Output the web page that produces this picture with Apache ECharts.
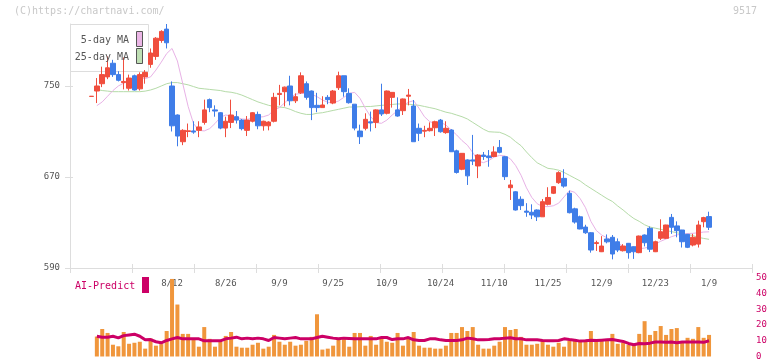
<!DOCTYPE html>
<html><head><meta charset="utf-8">
<script src="https://cdn.jsdelivr.net/npm/echarts@6/dist/echarts.min.js"></script>
<style>html,body{margin:0;padding:0;background:#fff}#c{width:772px;height:361px}</style>
</head><body><div id="c"></div>
<script>
const dates = ['7/18','7/22','7/23','7/24','7/25','7/28','7/29','7/30','7/31','8/1','8/4','8/5','8/6','8/7','8/8',
'8/12','8/13','8/14','8/15','8/18','8/19','8/20','8/21','8/22','8/25','8/26','8/27','8/28','8/29',
'9/1','9/2','9/3','9/4','9/5','9/8','9/9','9/10','9/11','9/12','9/16','9/17','9/18','9/19','9/22','9/24','9/25','9/26','9/29','9/30',
'10/1','10/2','10/3','10/6','10/7','10/8','10/9','10/10','10/14','10/15','10/16','10/17','10/20','10/21','10/22','10/23','10/24','10/27','10/28','10/29','10/30','10/31',
'11/4','11/5','11/6','11/7','11/10','11/11','11/12','11/13','11/14','11/17','11/18','11/19','11/20','11/21','11/25','11/26','11/27','11/28',
'12/1','12/2','12/3','12/4','12/5','12/8','12/9','12/10','12/11','12/12','12/15','12/16','12/17','12/18','12/19','12/22','12/23','12/24','12/25','12/26','12/29','12/30',
'1/5','1/6','1/7','1/8','1/9'];
const labelDates = ['8/12','8/26','9/9','9/25','10/9','10/24','11/10','11/25','12/9','12/23','1/9'];
// [open, close, low, high]
const ohlc = [
[740.8,741,740.8,741],[745.6,750,735,757],[752,760,749,767],[758,766,756,776],[770,760,758,773],
[760,755,754,763],[753,754,747,775],[748,757,746,760],[759,746.5,746,760],[747.5,760,746,762],
[758,762,752,764],[769,779,766,783],[776,792,773,793],[790,798,788,799],[800,788,783,804.5],
[750,715,710,754],[724.5,706,697,725],[701,711,698,712],[710,710.6,705,717],[710.5,709.5,708,719],
[711,714,705,719],[718,729,716,738],[738,731,727,739],[729,728,723,733],[726.5,713,712,727],
[713,719,705,723],[718,724.5,713,738],[723,720,717,728],[720,712.5,711,721],[711,720,706,723.6],
[719,726.5,718,727],[725,715,712,727.5],[715,719,710.7,719.5],[715,718.3,711,719],[719,740,718,744],
[742.5,743.5,733,751],[745,749,732,749.5],[750,737,733,759],[737,740.6,735,743.5],[744,759,743,762],
[752,740,738,754],[745.6,731,720,746],[733,731,727,744],[731,733.3,731,741],[740,738,734,742],
[735,745.6,734,746.5],[748.5,759,746.5,762.6],[759,745,740.6,759],[743.5,735.3,734.5,748],[734,713,711,734],
[710.4,705.4,699,716],[712.8,720.7,711,726],[718.5,717.5,710,727.5],[718,729,713,729.5],[729,725.4,723.6,752],
[726,745.6,725,746],[740,744.4,731,744.5],[729,723.6,723,740],[728.3,738.6,724.5,739],[741,742,733,747.4],
[732.4,701,701,737.7],[712.8,708.4,701.6,717],[710.3,711,705,715],[710.7,712.8,710,718],[713.3,718.6,706,719.5],
[720,709.8,709,721],[709,712.8,708,719],[711.3,692.2,692,712],[693,674,673,694],[676.8,690.8,676,691],
[685,671,663,685.5],[685,684,680.5,707],[679.7,689.3,669,690],[689.3,688,685,692],[688.5,687,679,693.7],
[688,692,687.5,697],[696,691.7,690.8,702.5],[687.8,670.3,667.4,688.5],[660.6,663,649.8,667.4],[657,641,640.5,657.5],
[650.4,644.8,641,653],[640,639,635,647],[639,636.6,633,646],[641,635,631.3,641.5],[635,648.3,635,650.6],
[646,652,645,661],[655.7,661.5,655,662],[665,673.8,664,675],[668.8,662,660.6,676.8],[655.7,638.6,638,658],
[642,630.4,629,643],[635,624.3,624,636],[626,621,620,628],[621,605.8,603.5,621.5],[611.5,612.3,605,614],
[604.3,609.3,604,618],[615.5,613,611.7,619.5],[617,602.3,597.6,619],[613.1,605.8,604,616],[605.2,609.3,604.5,611],
[611.7,603.5,598.2,612],[608.7,604.3,598,609],[603.5,618.1,603,618.5],[619,612.2,609,619.5],[624.9,606.5,604,626.5],
[604.3,613.1,604,614],[616.1,621.9,614.6,632.8],[616.1,627.8,615.5,628],[634.5,625.8,620,637.5],[627,622.8,617,631],
[623.4,613.1,608,623.5],[619.6,608.2,607.5,620],[610.2,617,609,620],[611,627.8,608,631.6],[630.7,634.3,625.8,635],
[635.2,625.8,623.4,639.5]];
const ma5 = [null,732.7,736,741,746,750,752.5,754.5,756.5,757,756.5,758,764,771,778.5,783,772,752,732,717,
711,710.5,712.5,717,722.5,724.5,723.6,722.5,721,720.7,721.6,722.5,723,724.5,728.9,731,735.3,740,742.7,743.5,
743.5,742.7,740.6,737.7,735.7,735.3,736.8,740,743.5,744.4,739.2,730.4,723,717.7,717.2,720,724.5,728.3,732.7,735.7,
737.1,730.4,723,718.6,717.2,718.1,715.7,711.3,707,702,698,691.5,684,682.6,684.5,687.5,689,688.5,686,680,
671.5,660.5,652,646.5,644,644,644.7,647,652.5,658,656.5,651,643,631,623,619,616.5,614,612,609,
607.5,606.5,607,607.5,608.7,611,613.5,615.5,617.5,619,620,620.3,620.5,621,621.6,621.8];
const ma25 = [null,747,746,745.5,745,745,745,745,745,745,745.5,746.5,748,750,752,753,753,752,751,749.5,
748,747.5,747,746.5,746,745,744.5,743.5,742,740,738,736,734.5,733,732,731.5,731,729.5,727.5,726,
725,725,726,726.5,727.5,728.5,729.5,730.5,731.5,731.5,731.8,732,732,732.5,733,733.3,733.8,734.2,734.2,734,
733.5,733,732,731,730,728.5,727,726,724.5,723,721,718,715,712,709.8,709.5,709.3,707.5,705,701,
697.5,692,687,682.5,680,677.6,677,676,674,671.5,669,666.5,663,660,657,654,651,648.5,644.5,641,
637,633.5,631,628,626,625,624,623,622,621,620,619.5,618.5,617,616,615.2];
const volume = [null,12.7,17.5,15,7.5,6.5,15.6,8.1,8.75,9.4,5,11.5,6.9,7.9,16.25,49.4,33.1,14.4,14.4,10.8,
6.25,18.75,11.25,6.25,9.4,13.1,15.6,6.25,5.6,5.6,7.5,8.75,5,6.25,13.75,9.4,7.5,9.4,6.9,7.5,
10,12.5,26.9,4.4,5,6.9,11.25,11.25,6.25,15,15,6.9,13.1,7.5,11.25,9.4,8.75,15,6.9,11.25,
15.6,6.9,5.6,5.6,5,5,6.9,15,15,18.75,16.25,18.75,7.5,5,5,6.9,9.4,18.75,16.9,17.5,
12.5,7.5,7.5,8.1,10,7.5,6.25,8.75,6.25,10,10,10,10.6,16.25,10,10,10.6,14.4,8.1,8.75,
7.5,7.5,14.4,22.5,13.75,16.25,19.4,13.75,17.5,18.1,9.4,11.9,11.25,18.75,11.9,13.75];
const aiPredict = [null,12.9,12.3,12.3,12.9,11.9,13.3,13.75,14.2,12.9,10.6,10.8,9.4,8.75,10.2,11.25,12.1,11.25,11.25,11.25,
11.25,10,10,10,10,11.25,11.7,12.3,11.25,11.7,11.25,11.7,11.25,10.2,12.1,11.7,11.25,11.7,12.1,11.25,
11.25,11.25,12.1,12.9,12.3,11.7,11.25,11.7,11.5,11.25,11.25,11.25,11.25,11.25,12.1,12.1,10.8,11.25,11.25,12.1,
10.6,10.2,10.2,11.25,11.25,10.6,10.2,10.2,10.2,10.6,11.7,11.25,10.6,10.6,10.8,11.25,11.25,11.7,11.9,11.25,
11.25,10.6,10.6,10.6,10.2,10,10,10.2,11.25,10.8,10.4,9.8,10,10.4,10.2,10.4,10.6,10.8,10.2,9.6,
8.3,7.5,8.3,8.1,8.5,9.2,9.2,9,9.2,8.75,9.2,9.2,9.2,9.2,9,10];
const priceTicks = [590, 670, 750];
const volTicks = [0, 10, 20, 30, 40, 50];

const LEAD = 4, TRAIL = 8;
const cats = [];
for (let i = 0; i < LEAD; i++) cats.push('p' + i);
dates.forEach(d => cats.push(d));
for (let i = 0; i < TRAIL; i++) cats.push('f' + i);
const pts = arr => arr.map((v, i) => v == null ? null : [LEAD + i, v]).filter(p => p);
const candleData = ohlc.map((d, i) => [LEAD + i, d[0], d[1], d[2], d[3]]);
const RED = '#f04e3e', BLUE = '#3f7de8', MAGENTA = '#cc0066';
const FONT = 'DejaVu Sans Mono';
const labelSet = new Set(labelDates);

const chart = echarts.init(document.getElementById('c'), null, {renderer: 'canvas'});
chart.setOption({
  animation: false,
  backgroundColor: '#fff',
  grid: [
    {left: 70, right: 20, top: 24, bottom: 93},
    {left: 70, right: 20, top: 278, bottom: 3}
  ],
  xAxis: [
    {type: 'category', gridIndex: 0, data: cats, boundaryGap: false,
     axisLine: {lineStyle: {color: '#ddd', width: 1}},
     axisTick: {show: false},
     axisLabel: {interval: (i, v) => labelSet.has(v), color: '#555', fontFamily: FONT, fontSize: 9, margin: 11},
     splitLine: {show: false}},
    {type: 'value', gridIndex: 0, min: 0, max: 11, interval: 1, position: 'bottom',
     axisLine: {show: false}, axisLabel: {show: false}, splitLine: {show: false},
     axisTick: {show: true, inside: true, length: 4, lineStyle: {color: '#ddd'}}},
    {type: 'value', gridIndex: 0, min: 0, max: 11, interval: 1, position: 'bottom',
     axisLine: {show: false}, axisLabel: {show: false}, splitLine: {show: false},
     axisTick: {show: true, inside: false, length: 5, lineStyle: {color: '#ddd'}}},
    {type: 'category', gridIndex: 1, data: cats, boundaryGap: false, show: false}
  ],
  yAxis: [
    {type: 'value', gridIndex: 0, min: 590, max: 804.5, position: 'left',
     axisLine: {show: true, lineStyle: {color: '#ddd'}},
     axisTick: {show: true, length: 5, customValues: priceTicks, lineStyle: {color: '#ddd'}},
     axisLabel: {customValues: priceTicks, color: '#555', fontFamily: FONT, fontSize: 9, margin: 10},
     splitLine: {show: false}},
    {type: 'value', gridIndex: 0, min: 590, max: 804.5, position: 'left',
     axisLine: {show: false}, axisLabel: {show: false}, splitLine: {show: false},
     axisTick: {show: true, inside: true, length: 3, customValues: priceTicks, lineStyle: {color: '#ddd'}}},
    {type: 'value', gridIndex: 1, min: 0, max: 50, interval: 10, position: 'right',
     axisLine: {show: false}, axisTick: {show: false}, splitLine: {show: false},
     axisLabel: {customValues: volTicks, color: MAGENTA, fontFamily: FONT, fontSize: 9, margin: 4}}
  ],
  series: [
    {type: 'bar', xAxisIndex: 3, yAxisIndex: 2, data: pts(volume), barWidth: 4,
     itemStyle: {color: '#f0963c'}, z: 2},
    {type: 'line', xAxisIndex: 3, yAxisIndex: 2, data: pts(aiPredict), showSymbol: false,
     lineStyle: {color: MAGENTA, width: 3}, z: 3},
    {type: 'line', xAxisIndex: 0, yAxisIndex: 0, data: pts(ma25), showSymbol: false,
     lineStyle: {color: '#b5dba8', width: 1}, z: 2},
    {type: 'line', xAxisIndex: 0, yAxisIndex: 0, data: pts(ma5), showSymbol: false,
     lineStyle: {color: '#e8b2e6', width: 1}, z: 2},
    {type: 'candlestick', xAxisIndex: 0, yAxisIndex: 0, data: candleData,
     encode: {x: 0, y: [1, 2, 3, 4]}, barWidth: 5,
     itemStyle: {color: RED, color0: BLUE, borderColor: RED, borderColor0: BLUE, borderWidth: 1}, z: 3}
  ],
  graphic: [
    {type: 'text', left: 14, top: 6, style: {text: '(C)https://chartnavi.com/', fill: '#c8c8c8', font: '10px "DejaVu Sans Mono"'}},
    {type: 'text', right: 15, top: 6, style: {text: '9517', fill: '#c8c8c8', font: '10px "DejaVu Sans Mono"'}},
    {type: 'rect', shape: {x: 70.5, y: 24.5, width: 78, height: 47}, style: {fill: 'none', stroke: '#ddd', lineWidth: 1}, z: 1},
    {type: 'text', x: 129, y: 40, style: {text: '5-day MA', fill: '#555', font: '10px "DejaVu Sans Mono"', align: 'right', verticalAlign: 'middle'}, z: 10},
    {type: 'text', x: 129, y: 57, style: {text: '25-day MA', fill: '#555', font: '10px "DejaVu Sans Mono"', align: 'right', verticalAlign: 'middle'}, z: 10},
    {type: 'rect', shape: {x: 136.5, y: 31.5, width: 6, height: 15}, style: {fill: '#ebb6e6', stroke: '#555', lineWidth: 1}, z: 10},
    {type: 'rect', shape: {x: 136.5, y: 48.5, width: 6, height: 15}, style: {fill: '#bfdfb4', stroke: '#555', lineWidth: 1}, z: 10},
    {type: 'text', x: 75, y: 286, style: {text: 'AI-Predict', fill: MAGENTA, font: '10px "DejaVu Sans Mono"', verticalAlign: 'middle'}, z: 10},
    {type: 'rect', shape: {x: 142, y: 277, width: 7, height: 16}, style: {fill: MAGENTA}, z: 10}
  ]
});
</script></body></html>
